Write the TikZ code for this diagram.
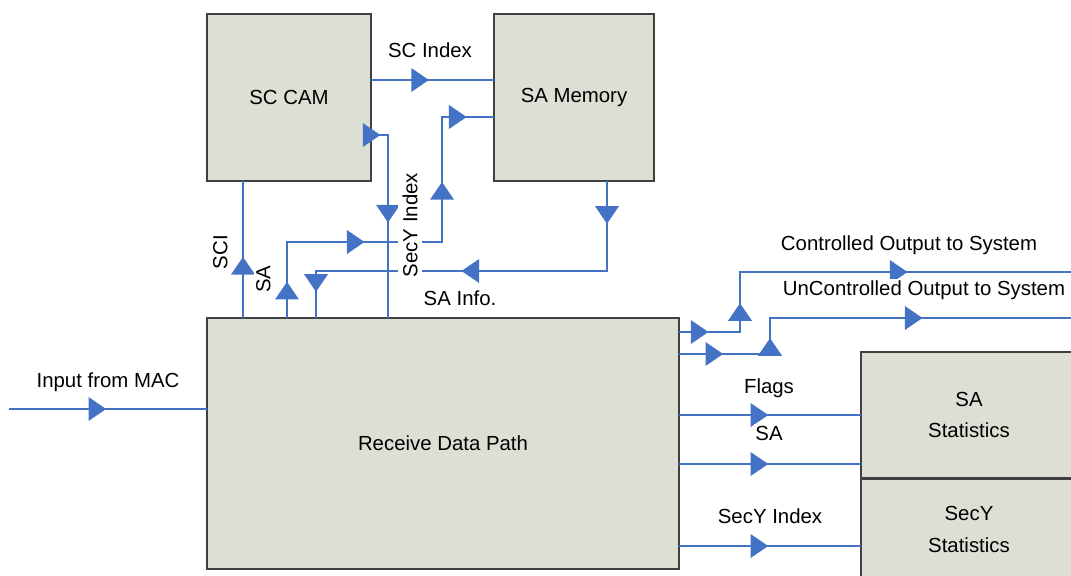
\documentclass[tikz,border=0pt]{standalone}
\usepackage{fontspec}
\setmainfont{Liberation Sans}
\usepackage{tikz}
\usetikzlibrary{
    arrows.meta,
    positioning,
    decorations.markings
}
\definecolor{WireBlue}{RGB}{68,114,196}
\definecolor{BoxGray}{RGB}{222,223,212}
\tikzset{
  block/.style = {draw=black!75, line width=1.1pt, fill=BoxGray, align=center,
                  inner sep=0pt, font=\fontsize{14.5}{22.5}\selectfont},
  wire/.style  = {draw=WireBlue, line width=1.5pt, line cap=rect},
  lbl/.style   = {inner sep=1pt, fill=white, text height=10.5pt, text depth=0pt},
  fwd/.style   = {postaction={decorate}, decoration={markings,
                  mark=at position #1 with {\arrow{Triangle[length=4.4mm, width=6mm,
                  fill=WireBlue, color=WireBlue, line width=0pt]}}}}
}

\begin{document}
\begin{tikzpicture}[x=0.025cm, y=-0.025cm, font=\fontsize{14.5}{17}\selectfont]
\useasboundingbox (0,0) rectangle (1071,575);
% blocks
\node[block, minimum width=4.1cm, minimum height=4.175cm] (cam) at (289,97.5) {SC CAM};
\node[block, minimum width=4.0cm, minimum height=4.175cm] (mem) at (574,97.5) {SA Memory};
\node[block, minimum width=11.8cm, minimum height=6.275cm] (rdp) at (443,443.5) {Receive Data Path};
\node[block, minimum width=5.4cm, minimum height=3.15cm] (sastat) at (969,415) {SA\\Statistics};
\node[block, minimum width=5.4cm, minimum height=2.5cm, below=0pt of sastat] (secystat) {SecY\\Statistics};
\coordinate (mac) at (10,409);
\coordinate (ctl) at (1075,272);
\coordinate (unctl) at (1075,318);

% connectors
\draw[wire] (mac) edge[fwd=.49] (rdp.west |- mac);
\draw[wire] (cam.east |- 0,80) edge[fwd=.47] (mem.west |- 0,80);
\draw[wire] (rdp.north -| 243,0) edge[fwd=.445] (cam.south -| 243,0);
\draw[wire] (rdp.north -| 287,0) edge[fwd=.47] (287,242)
  (287,242) edge[fwd=.5] (442,242)
  (442,242) edge[fwd=.48] (442,117)
  (442,117) edge[fwd=.48] (mem.west |- 0,117);
\draw[wire] (cam.east |- 0,135) edge[fwd=.53] (388,135)
  (388,135) edge[fwd=.48] (rdp.north -| 388,0);
\draw[wire] (mem.south -| 607,0) edge[fwd=.47] (607,271)
  (607,271) edge[fwd=.5] (316,271)
  (316,271) edge[fwd=.45] (rdp.north -| 316,0);
\draw[wire] (rdp.east |- 0,332) edge[fwd=.475] (740,332)
  (740,332) edge[fwd=.48] (740,272)
  (740,272) edge[fwd=.5] (ctl);
\draw[wire] (rdp.east |- 0,354) edge[fwd=.48] (770,354)
  (770,354) edge[fwd=.44] (770,318)
  (770,318) edge[fwd=.5] (unctl);
\draw[wire] (rdp.east |- 0,415) edge[fwd=.49] (sastat.west |- 0,415);
\draw[wire] (rdp.east |- 0,464) edge[fwd=.49] (sastat.west |- 0,464);
\draw[wire] (rdp.east |- 0,546) edge[fwd=.49] (secystat.west |- 0,546);

% labels
\node[lbl] (lscindex) at (430,50) {SC Index};
\node[lbl, rotate=90] (lsci) at (220,252) {SCI};
\node[lbl, rotate=90] (lsaup) at (263,279) {SA};
\node[lbl, rotate=90, inner sep=3pt] (lsecyup) at (410,225) {SecY Index};
\node[lbl] (lsainfo) at (460,298) {SA Info.};
\node[lbl] (lmac) at (108,380) {Input from MAC};
\node[lbl] (lctl) at (909,243) {Controlled Output to System};
\node[lbl] (lunctl) at (924,288) {UnControlled Output to System};
\node[lbl] (lflags) at (769,386) {Flags};
\node[lbl] (lsaout) at (769,433) {SA};
\node[lbl] (lsecyout) at (770,516) {SecY Index};
\end{tikzpicture}
\end{document}
